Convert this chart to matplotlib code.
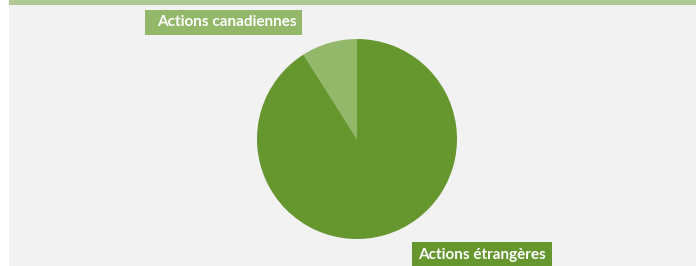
import matplotlib.pyplot as plt
from matplotlib.patches import Rectangle

# data
labels = ['Actions canadiennes', 'Actions étrangères']
values = [9, 91]
colors = ['#94b86a', '#66962e']

W, H = 696, 266
fig = plt.figure(figsize=(W / 100, H / 100), dpi=100)
fig.patch.set_facecolor('white')

# background panel and top bar
fig.patches.append(Rectangle((9 / W, 0), 1 - 9 / W, 1, transform=fig.transFigure,
                             facecolor='#f2f2f2', edgecolor='none', zorder=0))
fig.patches.append(Rectangle((9 / W, 1 - 5 / H), 1 - 9 / W, 5 / H, transform=fig.transFigure,
                             facecolor='#b0c994', edgecolor='none', zorder=1))

# pie axes: centre (357, 139) px, radius 100 px
cx, cy, r = 357, 139, 100
ax = fig.add_axes([(cx - r) / W, (H - cy - r) / H, 2 * r / W, 2 * r / H])
ax.set_zorder(5)
ax.patch.set_visible(False)
ax.pie(values, colors=colors, startangle=90, counterclock=True,
       wedgeprops=dict(linewidth=0))
ax.set_xlim(-1, 1)
ax.set_ylim(-1, 1)
ax.axis('off')

# label boxes (pixel boxes: x0, y0, x1, y1 from top-left) and text centre x
boxes = [(145, 10, 302, 35), (412, 242, 552, 268)]
text_x = [227, 482]
for lab, col, (x0, y0, x1, y1), tx in zip(labels, colors, boxes, text_x):
    fig.patches.append(Rectangle((x0 / W, 1 - y1 / H), (x1 - x0) / W, (y1 - y0) / H,
                                 transform=fig.transFigure, facecolor=col,
                                 edgecolor='none', zorder=2))
    fig.text(tx / W, 1 - (y0 + y1) / 2 / H, lab, ha='center', va='center',
             color='white', fontsize=11, fontweight='bold', family='Lato', zorder=6)

fig.savefig('out.png', dpi=100, facecolor=fig.get_facecolor())
